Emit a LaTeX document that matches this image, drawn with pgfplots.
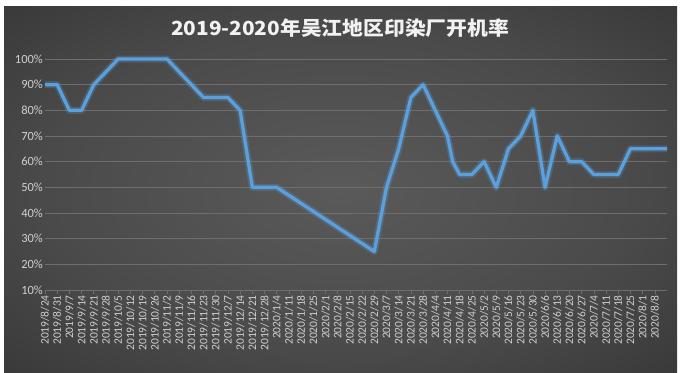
\documentclass[border=0pt]{standalone}
\usepackage{fontspec}
\usepackage{graphicx}
\usepackage{pgfplots}
\pgfplotsset{compat=1.18}
\setmainfont{Carlito}
\newfontfamily\cjk{Noto Sans CJK SC}
\definecolor{bgin}{HTML}{5A5A5A}
\definecolor{bgmid}{HTML}{4A4A4A}
\definecolor{bgout}{HTML}{282828}
\definecolor{lineblue}{HTML}{5BA0DC}
\definecolor{gridc}{HTML}{6E6E6E}
\definecolor{tickc}{HTML}{D0D0D0}
\pgfdeclareradialshading{bgshade}{\pgfpoint{0bp}{0bp}}{color(0bp)=(bgin); color(22bp)=(bgmid); color(50bp)=(bgout); color(72bp)=(bgout)}
\begin{document}
\begin{tikzpicture}[x=1bp,y=1bp]
\fill[white] (0,0) rectangle (683,372);
\shade[shading=bgshade] (4,0) rectangle (677,365);
\node[text=white!95!black, font=\fontsize{19.5}{19.5}\selectfont\cjk\bfseries] at (340,344) {\scalebox{1.07}[1]{2019-2020年吴江地区印染厂开机率}};
\begin{axis}[at={(45bp,82bp)}, anchor=south west, scale only axis,
  width=622bp, height=231bp,
  xmin=0, xmax=357, ymin=10, ymax=100,
  clip=false,
  axis lines*=left,
  separate axis lines,
  y axis line style={draw=none},
  x axis line style={draw=gridc, line width=0.8bp},
  xtick={0,7,...,350},
  xticklabels={2019/8/24,2019/8/31,2019/9/7,2019/9/14,2019/9/21,2019/9/28,2019/10/5,2019/10/12,2019/10/19,2019/10/26,2019/11/2,2019/11/9,2019/11/16,2019/11/23,2019/11/30,2019/12/7,2019/12/14,2019/12/21,2019/12/28,2020/1/4,2020/1/11,2020/1/18,2020/1/25,2020/2/1,2020/2/8,2020/2/15,2020/2/22,2020/2/29,2020/3/7,2020/3/14,2020/3/21,2020/3/28,2020/4/4,2020/4/11,2020/4/18,2020/4/25,2020/5/2,2020/5/9,2020/5/16,2020/5/23,2020/5/30,2020/6/6,2020/6/13,2020/6/20,2020/6/27,2020/7/4,2020/7/11,2020/7/18,2020/7/25,2020/8/1,2020/8/8},
  ytick={10,20,...,100},
  yticklabels={10\%,20\%,30\%,40\%,50\%,60\%,70\%,80\%,90\%,100\%},
  ticklabel style={text=tickc},
  x tick label style={rotate=90, anchor=east, font=\fontsize{11.5}{11.5}\selectfont, inner sep=1bp},
  y tick label style={font=\fontsize{12.5}{12.5}\selectfont, inner sep=2bp},
  xtick align=outside,
  xtick style={draw=gridc, line width=0.6bp},
  major tick length=4bp,
  ytick style={draw=none},
  ymajorgrids,
  grid style={draw=gridc, line width=0.7bp},
]
\addplot[lineblue, line width=7bp, opacity=0.25, line join=round, mark=none] coordinates {
(0,90) (7,90) (14,80) (21,80) (28,90) (42,100) (70,100) (91,85) (105,85) (112,80) (119,50) (133,50) (189,25) (196,50) (203,65) (210,85) (217,90) (231,70) (234,60) (238,55) (245,55) (252,60) (259,50) (266,65) (273,70) (280,80) (287,50) (294,70) (301,60) (308,60) (315,55) (329,55) (336,65) (357,65)
};
\addplot[lineblue, line width=3.3bp, line join=round, mark=none] coordinates {
(0,90) (7,90) (14,80) (21,80) (28,90) (42,100) (70,100) (91,85) (105,85) (112,80) (119,50) (133,50) (189,25) (196,50) (203,65) (210,85) (217,90) (231,70) (234,60) (238,55) (245,55) (252,60) (259,50) (266,65) (273,70) (280,80) (287,50) (294,70) (301,60) (308,60) (315,55) (329,55) (336,65) (357,65)
};
\end{axis}
\end{tikzpicture}
\end{document}
